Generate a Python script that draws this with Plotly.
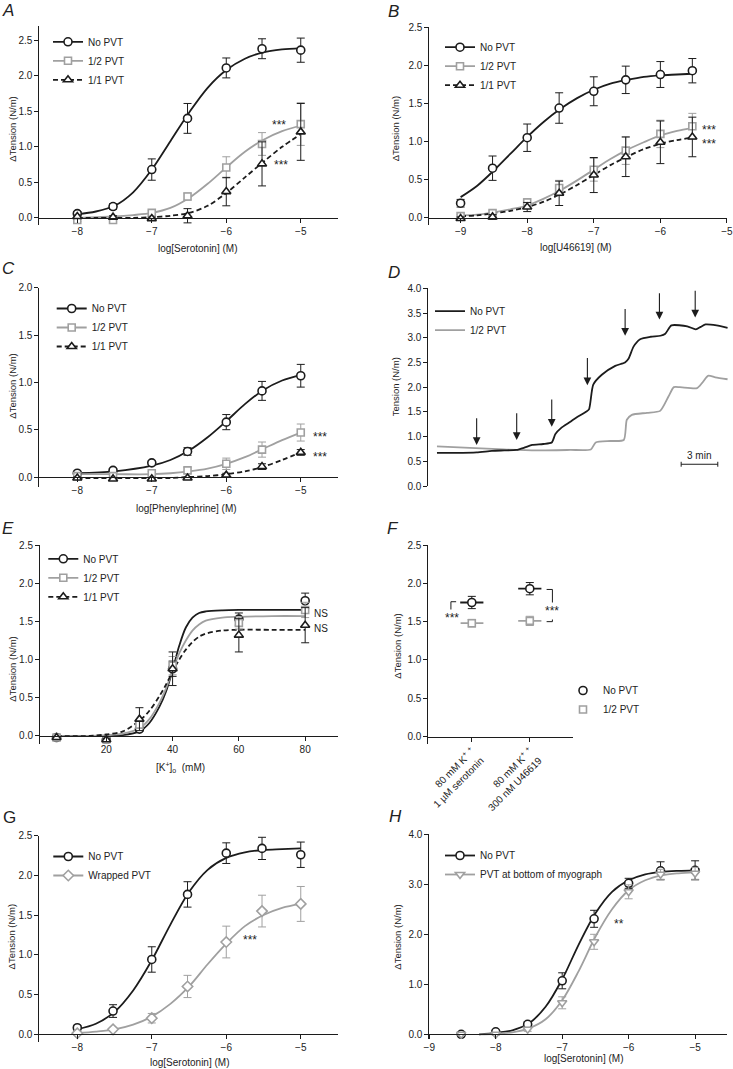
import plotly.graph_objects as go

W, H = 733, 1069
INK = "#1c1c1c"
GREY = "#a0a0a0"
FONT = "Liberation Sans, Arial, Helvetica, sans-serif"

# ---------------- data ----------------
# A: serotonin
a_logc = [-8, -7.52, -7, -6.52, -6, -5.52, -5]
a_none = [0.06, 0.16, 0.68, 1.40, 2.11, 2.38, 2.36]
a_none_sem = [0.03, 0.04, 0.15, 0.21, 0.14, 0.14, 0.17]
a_half = [-0.03, -0.03, 0.07, 0.30, 0.71, 1.04, 1.32]
a_half_sem = [0.02, 0.02, 0.03, 0.05, 0.15, 0.16, 0.30]
a_full = [0.02, 0.01, -0.01, 0.03, 0.37, 0.76, 1.21]
a_full_sem = [0.02, 0.02, 0.02, 0.10, 0.20, 0.31, 0.40]
a_fit_x = [-8, -7.75, -7.5, -7.25, -7, -6.75, -6.5, -6.25, -6, -5.75, -5.5, -5.25, -5]
a_fit_none = [0.05, 0.09, 0.17, 0.36, 0.68, 1.08, 1.48, 1.83, 2.08, 2.24, 2.33, 2.37, 2.39]
a_fit_half = [0.00, 0.01, 0.02, 0.04, 0.07, 0.14, 0.28, 0.48, 0.71, 0.93, 1.10, 1.22, 1.30]
a_fit_full = [0.00, 0.00, 0.00, 0.00, 0.01, 0.03, 0.07, 0.17, 0.35, 0.57, 0.79, 1.00, 1.18]

# B: U46619
b_logc = [-9, -8.52, -8, -7.52, -7, -6.52, -6, -5.52]
b_none = [0.19, 0.65, 1.05, 1.44, 1.66, 1.81, 1.88, 1.93]
b_none_sem = [0.05, 0.16, 0.18, 0.20, 0.19, 0.18, 0.17, 0.16]
b_half = [0.02, 0.06, 0.20, 0.39, 0.63, 0.88, 1.10, 1.20]
b_half_sem = [0.02, 0.03, 0.05, 0.10, 0.15, 0.18, 0.18, 0.17]
b_full = [-0.01, 0.01, 0.14, 0.32, 0.56, 0.80, 0.99, 1.06]
b_full_sem = [0.02, 0.03, 0.06, 0.16, 0.23, 0.26, 0.28, 0.26]
b_fit_x = [-9, -8.75, -8.5, -8.25, -8, -7.75, -7.5, -7.25, -7, -6.75, -6.5, -6.25, -6, -5.75, -5.52]
b_fit_none = [0.27, 0.42, 0.62, 0.84, 1.06, 1.26, 1.43, 1.57, 1.68, 1.76, 1.81, 1.85, 1.87, 1.88, 1.89]
b_fit_half = [0.03, 0.04, 0.07, 0.11, 0.16, 0.25, 0.36, 0.49, 0.63, 0.77, 0.89, 0.99, 1.08, 1.14, 1.18]
b_fit_full = [0.02, 0.03, 0.06, 0.09, 0.14, 0.21, 0.31, 0.43, 0.56, 0.69, 0.80, 0.90, 0.97, 1.02, 1.05]

# C: phenylephrine
c_logc = [-8, -7.52, -7, -6.52, -6, -5.52, -5]
c_none = [0.04, 0.07, 0.15, 0.27, 0.58, 0.91, 1.07]
c_none_sem = [0.02, 0.02, 0.02, 0.04, 0.08, 0.10, 0.12]
c_half = [0.01, 0.01, 0.04, 0.07, 0.14, 0.29, 0.47]
c_half_sem = [0.01, 0.01, 0.02, 0.03, 0.06, 0.08, 0.09]
c_full = [-0.01, -0.02, -0.02, -0.01, 0.02, 0.11, 0.26]
c_full_sem = [0.01, 0.01, 0.01, 0.01, 0.02, 0.03, 0.03]
c_fit_x = [-8, -7.5, -7, -6.75, -6.5, -6.25, -6, -5.75, -5.5, -5.25, -5]
c_fit_none = [0.04, 0.06, 0.12, 0.18, 0.28, 0.42, 0.59, 0.77, 0.92, 1.02, 1.08]
c_fit_half = [0.03, 0.03, 0.03, 0.04, 0.06, 0.09, 0.14, 0.21, 0.30, 0.39, 0.47]
c_fit_full = [-0.01, -0.01, -0.01, -0.01, 0.00, 0.01, 0.03, 0.06, 0.11, 0.18, 0.26]

# D: raw tension traces (minutes)
d_t_none = [0, 1.5, 3.25, 4.5, 5.5, 6.5, 7.2, 7.8, 8.7, 9.4, 9.7, 10.2, 10.8, 11.4, 12.2,
            12.45, 12.8, 13.5, 14.6, 15.4, 15.7, 16.1, 16.64, 17.5, 18.3, 18.7, 19.2, 20.5,
            21.2, 21.6, 22.0, 22.9, 23.8]
d_none = [0.67, 0.67, 0.68, 0.71, 0.72, 0.73, 0.78, 0.83, 0.85, 0.88, 1.05, 1.18, 1.28, 1.38,
          1.50, 1.55, 2.05, 2.25, 2.43, 2.50, 2.58, 2.82, 2.97, 3.02, 3.04, 3.08, 3.25, 3.23,
          3.17, 3.22, 3.27, 3.25, 3.20]
d_t_half = [0, 2.7, 5.44, 8.17, 10.9, 12.6, 13.0, 14.2, 15.3, 15.55, 15.96, 17.2, 18.28,
            18.96, 19.4, 19.9, 21.3, 21.7, 22.2, 22.8, 23.8]
d_half = [0.80, 0.77, 0.74, 0.72, 0.73, 0.74, 0.88, 0.91, 0.93, 1.34, 1.44, 1.48, 1.52,
          1.81, 2.00, 2.00, 1.98, 2.08, 2.23, 2.20, 2.16]
d_arrow_t = [3.25, 6.53, 9.4, 12.32, 15.41, 18.22, 21.15]
d_arrow_tip = [0.83, 0.93, 1.20, 2.04, 3.04, 3.37, 3.41]
d_arrow_top = [1.40, 1.50, 1.78, 2.62, 3.61, 3.93, 3.98]
d_scale_t = [20, 23]
d_scale_y = 0.44

# E: potassium
e_k = [5, 20, 30, 40, 60, 80]
e_none = [-0.02, -0.05, 0.09, 0.88, 1.53, 1.77]
e_none_sem = [0.01, 0.01, 0.03, 0.10, 0.08, 0.10]
e_half = [-0.02, -0.05, 0.15, 0.92, 1.48, 1.65]
e_half_sem = [0.01, 0.02, 0.05, 0.12, 0.08, 0.10]
e_full = [-0.02, -0.05, 0.22, 0.88, 1.32, 1.45]
e_full_sem = [0.01, 0.02, 0.15, 0.22, 0.22, 0.23]
e_fit_k = [5, 15, 20, 25, 30, 33, 36, 38, 40, 42, 44, 46, 48, 50, 55, 60, 70, 80]
e_fit_none = [0, 0, 0.0, 0.01, 0.06, 0.17, 0.38, 0.58, 0.86, 1.18, 1.42, 1.55, 1.61, 1.63, 1.645, 1.65, 1.65, 1.65]
e_fit_half = [0, 0, 0.01, 0.03, 0.10, 0.22, 0.43, 0.62, 0.86, 1.08, 1.25, 1.38, 1.46, 1.51, 1.55, 1.56, 1.57, 1.57]
e_fit_full = [0, 0, 0.02, 0.06, 0.20, 0.33, 0.52, 0.67, 0.84, 1.00, 1.13, 1.23, 1.30, 1.34, 1.38, 1.39, 1.39, 1.39]

# F: combined stimuli
f_pos = [0, 1]
f_labels = ["80 mM K<sup>+</sup> <sup>+</sup><br>1 µM serotonin",
            "80 mM K<sup>+</sup> <sup>+</sup><br>300 nM U46619"]
f_none = [1.75, 1.93]
f_none_sem = [0.08, 0.08]
f_half = [1.48, 1.51]
f_half_sem = [0.05, 0.06]

# G: wrapped PVT
g_logc = [-8, -7.52, -7, -6.52, -6, -5.52, -5]
g_none = [0.08, 0.29, 0.94, 1.76, 2.28, 2.34, 2.26]
g_none_sem = [0.03, 0.08, 0.16, 0.16, 0.13, 0.14, 0.16]
g_wrap = [0.01, 0.06, 0.20, 0.60, 1.16, 1.55, 1.64]
g_wrap_sem = [0.01, 0.02, 0.06, 0.14, 0.20, 0.20, 0.22]
g_fit_x = [-8, -7.75, -7.5, -7.25, -7, -6.75, -6.5, -6.25, -6, -5.75, -5.5, -5.25, -5]
g_fit_none = [0.06, 0.13, 0.28, 0.55, 0.93, 1.38, 1.79, 2.07, 2.22, 2.29, 2.32, 2.33, 2.34]
g_fit_wrap = [0.01, 0.03, 0.06, 0.12, 0.22, 0.38, 0.60, 0.88, 1.14, 1.36, 1.50, 1.59, 1.64]

# H: PVT at bottom of myograph
h_logc = [-8.52, -8, -7.52, -7, -6.52, -6, -5.52, -5]
h_none = [0.0, 0.05, 0.20, 1.07, 2.31, 3.02, 3.27, 3.28]
h_none_sem = [0.02, 0.03, 0.05, 0.16, 0.17, 0.10, 0.18, 0.19]
h_bottom = [0.0, 0.0, 0.10, 0.63, 1.85, 2.85, 3.20, 3.22]
h_bottom_sem = [0.02, 0.02, 0.04, 0.12, 0.15, 0.14, 0.10, 0.12]
h_fit_x = [-8.25, -8, -7.75, -7.5, -7.25, -7, -6.75, -6.5, -6.25, -6, -5.75, -5.5, -5.25, -5]
h_fit_none = [0.0, 0.03, 0.08, 0.22, 0.55, 1.10, 1.80, 2.42, 2.85, 3.08, 3.20, 3.25, 3.27, 3.28]
h_fit_bottom = [0.0, 0.01, 0.04, 0.12, 0.30, 0.68, 1.27, 1.95, 2.50, 2.88, 3.08, 3.18, 3.22, 3.24]

fig = go.Figure()


def refs(n):
    return ("x", "y") if n == 1 else (f"x{n}", f"y{n}")


def key(base, n):
    return base if n == 1 else f"{base}{n}"


def panel_axes(n, left, right, top, bottom, xrange, yrange, ydtick,
               xticks=None, xtext=None, show_x=True, xangle=0):
    xd = [left / W, right / W]
    yd = [1 - bottom / H, 1 - top / H]
    xr, yr = refs(n)
    common = dict(showgrid=False, zeroline=False, showline=True, linecolor=INK,
                  linewidth=1, ticks="outside", ticklen=4, tickwidth=1, tickcolor=INK,
                  automargin=False, ticklabeloverflow="allow",
                  tickfont=dict(family=FONT, size=10, color="#222"))
    zero = yd[0] + (0 - yrange[0]) / (yrange[1] - yrange[0]) * (yd[1] - yd[0])
    xa = dict(common, domain=xd, range=xrange, anchor="free", position=zero,
              tickvals=xticks, ticktext=xtext, tickangle=xangle)
    if not show_x:
        xa = dict(domain=xd, range=xrange, visible=False, anchor=yr, automargin=False)
    ya = dict(common, domain=yd, range=yrange, anchor=xr, tick0=0, dtick=ydtick,
              tickformat=".1f")
    fig.update_layout(**{key("xaxis", n): xa, key("yaxis", n): ya})


def curve(n, x, y, color, dash="solid"):
    xr, yr = refs(n)
    fig.add_trace(go.Scatter(x=x, y=y, xaxis=xr, yaxis=yr, mode="lines",
                             line=dict(color=color, width=1.8, dash=dash,
                                       shape="spline", smoothing=0.9),
                             showlegend=False, hoverinfo="skip"))


def points(n, x, y, err, color, symbol, size=8):
    xr, yr = refs(n)
    fig.add_trace(go.Scatter(x=x, y=y, xaxis=xr, yaxis=yr, mode="markers",
                             marker=dict(symbol=symbol, size=size, color="white",
                                         line=dict(color=color, width=1.6)),
                             error_y=dict(type="data", array=err, color=color,
                                          thickness=1, width=4),
                             showlegend=False))


def entry(n, name, color, symbol=None, dash="solid", mode="lines+markers", size=8):
    xr, yr = refs(n)
    fig.add_trace(go.Scatter(x=[None], y=[None], xaxis=xr, yaxis=yr, mode=mode, name=name,
                             line=dict(color=color, width=1.8, dash=dash),
                             marker=dict(symbol=symbol or "circle", size=size, color="white",
                                         line=dict(color=color, width=1.6)),
                             legend=key("legend", n), showlegend=True))


def legend_box(n, text_left, first_mid):
    fig.update_layout(**{key("legend", n): dict(
        x=(text_left - 40) / W, y=1 - (first_mid - 10) / H, xanchor="left", yanchor="top",
        bgcolor="rgba(0,0,0,0)", itemwidth=30, traceorder="normal",
        font=dict(family=FONT, size=10, color="#222"))})


def label(text, px, py, size=10, angle=0, **kw):
    fig.add_annotation(text=text, x=px / W, y=1 - py / H, xref="paper", yref="paper",
                       showarrow=False, textangle=angle, xanchor="center", yanchor="middle",
                       font=dict(family=FONT, size=size, color="#222"), **kw)


def note(n, text, x, y, size=10, **kw):
    xr, yr = refs(n)
    fig.add_annotation(text=text, x=x, y=y, xref=xr, yref=yr, showarrow=False,
                       font=dict(family=FONT, size=size, color="#222"), **kw)


# ---------------- A ----------------
panel_axes(1, 39.3, 338, 26, 225, [-8.51, -4.5], [-0.1, 2.7], 0.5, xticks=[-8, -7, -6, -5])
curve(1, a_fit_x, a_fit_none, INK)
curve(1, a_fit_x, a_fit_half, GREY)
curve(1, a_fit_x, a_fit_full, INK, "5px,3px")
points(1, a_logc, a_none, a_none_sem, INK, "circle")
points(1, a_logc, a_half, a_half_sem, GREY, "square", 7)
points(1, a_logc, a_full, a_full_sem, INK, "triangle-up")
entry(1, "No PVT", INK, "circle")
entry(1, "1/2 PVT", GREY, "square", size=7)
entry(1, "1/1 PVT", INK, "triangle-up", "5px,3px")
legend_box(1, 88, 37.3)
note(1, "***", -5.29, 1.36, size=12, yshift=-4)
note(1, "***", -5.27, 0.80, size=12, yshift=-4)

# ---------------- B ----------------
panel_axes(2, 429.3, 727.3, 27.3, 225.3, [-9.47, -4.995], [-0.1, 2.5], 0.5,
           xticks=[-9, -8, -7, -6, -5])
curve(2, b_fit_x, b_fit_none, INK)
curve(2, b_fit_x, b_fit_half, GREY)
curve(2, b_fit_x, b_fit_full, INK, "5px,3px")
points(2, b_logc, b_none, b_none_sem, INK, "circle")
points(2, b_logc, b_half, b_half_sem, GREY, "square", 7)
points(2, b_logc, b_full, b_full_sem, INK, "triangle-up")
entry(2, "No PVT", INK, "circle")
entry(2, "1/2 PVT", GREY, "square", size=7)
entry(2, "1/1 PVT", INK, "triangle-up", "5px,3px")
legend_box(2, 480, 42.7)
note(2, "***", -5.27, 1.20, size=12, xanchor="left", xshift=-9, yshift=-4)
note(2, "***", -5.27, 1.02, size=12, xanchor="left", xshift=-9, yshift=-4)

# ---------------- C ----------------
panel_axes(3, 39.3, 338, 287.7, 486.5, [-8.51, -4.5], [-0.1, 2.0], 0.5, xticks=[-8, -7, -6, -5])
curve(3, c_fit_x, c_fit_none, INK)
curve(3, c_fit_x, c_fit_half, GREY)
curve(3, c_fit_x, c_fit_full, INK, "5px,3px")
points(3, c_logc, c_none, c_none_sem, INK, "circle")
points(3, c_logc, c_half, c_half_sem, GREY, "square", 7)
points(3, c_logc, c_full, c_full_sem, INK, "triangle-up")
entry(3, "No PVT", INK, "circle")
entry(3, "1/2 PVT", GREY, "square", size=7)
entry(3, "1/1 PVT", INK, "triangle-up", "5px,3px")
legend_box(3, 91.7, 304)
note(3, "***", -4.74, 0.47, size=12, yshift=-4)
note(3, "***", -4.74, 0.25, size=12, yshift=-4)

# ---------------- D ----------------
panel_axes(4, 428.3, 730, 288.3, 486, [-0.71, 24.0], [0, 4.0], 0.5, show_x=False)
fig.add_trace(go.Scatter(x=d_t_half, y=d_half, xaxis="x4", yaxis="y4", mode="lines",
                         line=dict(color=GREY, width=1.8, shape="spline", smoothing=0.6),
                         showlegend=False, hoverinfo="skip"))
fig.add_trace(go.Scatter(x=d_t_none, y=d_none, xaxis="x4", yaxis="y4", mode="lines",
                         line=dict(color=INK, width=1.8, shape="spline", smoothing=0.6),
                         showlegend=False, hoverinfo="skip"))
entry(4, "No PVT", INK, mode="lines")
entry(4, "1/2 PVT", GREY, mode="lines")
legend_box(4, 470, 306.7)
for t, tip, top in zip(d_arrow_t, d_arrow_tip, d_arrow_top):
    fig.add_annotation(x=t, y=tip, ax=t, ay=top, xref="x4", yref="y4", axref="x4",
                       ayref="y4", text="", showarrow=True, arrowhead=2, arrowsize=1.4,
                       arrowwidth=1.1, arrowcolor=INK)
fig.add_shape(type="line", xref="x4", yref="y4", x0=d_scale_t[0], x1=d_scale_t[1],
              y0=d_scale_y, y1=d_scale_y, line=dict(color=INK, width=1))
for t in d_scale_t:
    fig.add_shape(type="line", xref="x4", yref="y4", x0=t, x1=t, y0=d_scale_y - 0.05,
                  y1=d_scale_y + 0.05, line=dict(color=INK, width=1))
note(4, "3 min", sum(d_scale_t) / 2, d_scale_y, yanchor="bottom", yshift=1)

# ---------------- E ----------------
panel_axes(5, 40, 338.3, 545, 743.6, [0, 90], [-0.1, 2.5], 0.5, xticks=[20, 40, 60, 80])
curve(5, e_fit_k, e_fit_none, INK)
curve(5, e_fit_k, e_fit_half, GREY)
curve(5, e_fit_k, e_fit_full, INK, "5px,3px")
points(5, e_k, e_none, e_none_sem, INK, "circle")
points(5, e_k, e_half, e_half_sem, GREY, "square", 7)
points(5, e_k, e_full, e_full_sem, INK, "triangle-up")
entry(5, "No PVT", INK, "circle")
entry(5, "1/2 PVT", GREY, "square", size=7)
entry(5, "1/1 PVT", INK, "triangle-up", "5px,3px")
legend_box(5, 83.3, 554.3)
note(5, "NS", 84.9, 1.60)
note(5, "NS", 84.9, 1.41)

# ---------------- F ----------------
panel_axes(6, 428.3, 573.3, 545, 744.3, [-0.75, 1.75], [-0.1, 2.5], 0.5,
           xticks=f_pos, xtext=f_labels, xangle=-45)
for vals, sem, color, sym, size in [(f_none, f_none_sem, INK, "circle", 8),
                                    (f_half, f_half_sem, GREY, "square", 7)]:
    fig.add_trace(go.Scatter(x=f_pos, y=vals, xaxis="x6", yaxis="y6", mode="markers",
                             marker=dict(symbol=sym, size=size, color="white",
                                         line=dict(color=color, width=1.6)),
                             error_y=dict(type="data", array=sem, color=color,
                                          thickness=1, width=4),
                             error_x=dict(type="constant", value=0.2, color=color,
                                          thickness=1.8, width=0),
                             showlegend=False))
entry(6, "No PVT", INK, "circle", mode="markers")
entry(6, "1/2 PVT", GREY, "square", mode="markers", size=7)
fig.update_layout(legend6=dict(x=563 / W, y=1 - 676 / H, xanchor="left", yanchor="top",
                               bgcolor="rgba(0,0,0,0)", itemwidth=30,
                               font=dict(family=FONT, size=10, color="#222")))
fig.add_shape(type="path", xref="x6", yref="y6",
              path="M -0.27,1.76 L -0.36,1.76 L -0.36,1.46 L -0.27,1.46",
              line=dict(color=INK, width=1))
fig.add_shape(type="path", xref="x6", yref="y6",
              path="M 1.29,1.92 L 1.39,1.92 L 1.39,1.50 L 1.29,1.50",
              line=dict(color=INK, width=1))
note(6, "***", -0.35, 1.60, size=12, yshift=-4, bgcolor="white")
note(6, "***", 1.38, 1.69, size=12, yshift=-4, bgcolor="white")

# ---------------- G ----------------
panel_axes(7, 39.3, 338, 835.7, 1042, [-8.51, -4.5], [-0.1, 2.5], 0.5, xticks=[-8, -7, -6, -5])
curve(7, g_fit_x, g_fit_none, INK)
curve(7, g_fit_x, g_fit_wrap, GREY)
points(7, g_logc, g_none, g_none_sem, INK, "circle")
points(7, g_logc, g_wrap, g_wrap_sem, GREY, "diamond")
entry(7, "No PVT", INK, "circle")
entry(7, "Wrapped PVT", GREY, "diamond")
legend_box(7, 88.3, 852)
note(7, "***", -5.68, 1.23, size=12, yshift=-4)

# ---------------- H ----------------
panel_axes(8, 429.3, 727, 834.3, 1039.3, [-9, -4.52], [-0.1, 4.0], 1.0,
           xticks=[-9, -8, -7, -6, -5])
curve(8, h_fit_x, h_fit_none, INK)
curve(8, h_fit_x, h_fit_bottom, GREY)
points(8, h_logc, h_none, h_none_sem, INK, "circle")
points(8, h_logc, h_bottom, h_bottom_sem, GREY, "triangle-down")
entry(8, "No PVT", INK, "circle")
entry(8, "PVT at bottom of myograph", GREY, "triangle-down")
legend_box(8, 480, 851)
note(8, "**", -6.15, 2.29, size=12, yshift=-4)

# ---------------- titles and panel letters ----------------
for text, px, py in [("log[Serotonin] (M)", 197, 248), ("log[U46619] (M)", 575.8, 247.3),
                     ("log[Phenylephrine] (M)", 186.7, 508.3),
                     ("[K<sup>+</sup>]<sub>o</sub>  (mM)", 180.7, 767.3),
                     ("log[Serotonin] (M)", 189.5, 1062), ("log[Serotonin] (M)", 583.3, 1058)]:
    label(text, px, py)
for text, px, py in [("ΔTension (N/m)", 11.7, 129), ("ΔTension (N/m)", 395, 129.3),
                     ("ΔTension (N/m)", 11.7, 386), ("Tension (N/m)", 395, 387.3),
                     ("ΔTension (N/m)", 11.7, 669), ("ΔTension (N/m)", 396.7, 646),
                     ("ΔTension (N/m)", 11.7, 936.7), ("ΔTension (N/m)", 398, 937.7)]:
    label(text, px, py, size=9.5, angle=-90)
for text, px, py in [("<i>A</i>", 8.3, 10.8), ("<i>B</i>", 393, 11.7), ("<i>C</i>", 8.3, 268.3),
                     ("<i>D</i>", 394, 273), ("<i>E</i>", 7.5, 528), ("<i>F</i>", 393, 529),
                     ("G", 9, 817.5), ("<i>H</i>", 395, 816)]:
    label(text, px, py, size=17)

fig.update_layout(template="none", width=W, height=H, margin=dict(l=0, r=0, t=0, b=0),
                  paper_bgcolor="white", plot_bgcolor="white",
                  font=dict(family=FONT, size=10, color="#222"))

# the page's default 8px body margin would push the figure off the window
fig.write_html("out.html", config={"displayModeBar": False},
               post_script="document.body.style.margin = '0';")
